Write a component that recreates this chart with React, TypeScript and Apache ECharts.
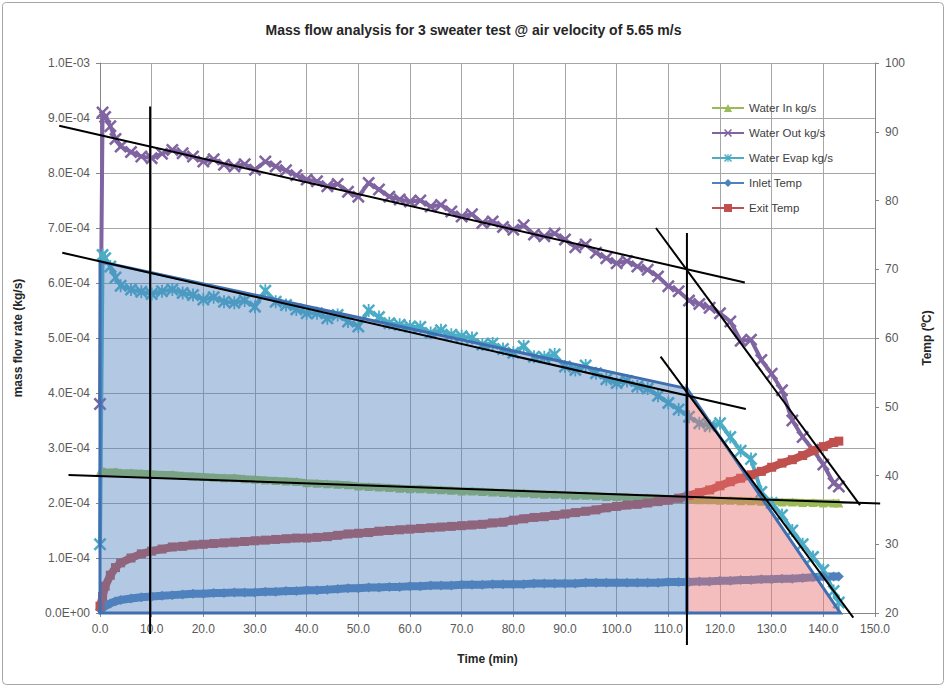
import React, { useEffect, useRef } from "react";
import * as echarts from "echarts";

// time (min)
const times = [0, 0.5, 1, 2, 3, 4, 6, 8, 10, 12, 14, 16, 18, 20, 22, 24, 26, 28, 30, 32, 34, 36, 38, 40, 42, 44, 46, 48, 50, 52, 54, 56, 58, 60, 62, 64, 66, 68, 70, 72, 74, 76, 78, 80, 82, 84, 86, 88, 90, 92, 94, 96, 98, 100, 102, 104, 106, 108, 110, 112, 114, 116, 118, 120, 122, 124, 126, 128, 130, 132, 134, 136, 138, 140, 142, 143];

// mass flow series, in units of 1e-4 kg/s
const waterInE4 = [2.57, 2.58, 2.57, 2.56, 2.57, 2.55, 2.55, 2.54, 2.53, 2.52, 2.52, 2.50, 2.49, 2.48, 2.47, 2.46, 2.46, 2.44, 2.43, 2.42, 2.41, 2.40, 2.39, 2.37, 2.36, 2.35, 2.34, 2.33, 2.31, 2.30, 2.29, 2.28, 2.27, 2.26, 2.26, 2.25, 2.24, 2.23, 2.22, 2.22, 2.21, 2.20, 2.19, 2.18, 2.18, 2.17, 2.16, 2.16, 2.15, 2.14, 2.14, 2.13, 2.12, 2.12, 2.11, 2.10, 2.10, 2.09, 2.08, 2.08, 2.07, 2.06, 2.06, 2.05, 2.05, 2.04, 2.04, 2.03, 2.03, 2.02, 2.02, 2.01, 2.01, 2.00, 2.00, 2.00];
const waterOutE4 = [3.80, 9.10, 9.02, 8.85, 8.62, 8.48, 8.38, 8.30, 8.27, 8.35, 8.42, 8.36, 8.30, 8.21, 8.25, 8.15, 8.12, 8.16, 8.06, 8.21, 8.12, 8.05, 7.96, 7.88, 7.85, 7.76, 7.80, 7.66, 7.57, 7.82, 7.70, 7.57, 7.52, 7.48, 7.50, 7.39, 7.42, 7.30, 7.21, 7.25, 7.09, 7.12, 7.02, 6.97, 7.05, 6.88, 6.85, 6.90, 6.79, 6.65, 6.70, 6.55, 6.45, 6.36, 6.40, 6.30, 6.24, 6.12, 5.94, 5.85, 5.68, 5.62, 5.55, 5.45, 5.30, 4.95, 4.97, 4.60, 4.35, 4.05, 3.50, 3.20, 2.97, 2.70, 2.36, 2.30];
const waterEvapE4 = [1.25, 6.51, 6.45, 6.30, 6.10, 5.95, 5.88, 5.84, 5.80, 5.85, 5.88, 5.82, 5.78, 5.70, 5.74, 5.66, 5.64, 5.68, 5.57, 5.86, 5.66, 5.60, 5.52, 5.45, 5.45, 5.36, 5.42, 5.30, 5.21, 5.50, 5.38, 5.27, 5.24, 5.21, 5.20, 5.09, 5.14, 5.06, 5.03, 5.00, 4.88, 4.90, 4.80, 4.73, 4.85, 4.66, 4.65, 4.70, 4.48, 4.42, 4.50, 4.36, 4.25, 4.18, 4.22, 4.12, 4.08, 3.95, 3.82, 3.70, 3.57, 3.45, 3.40, 3.45, 3.20, 2.95, 2.80, 2.20, 2.00, 1.78, 1.50, 1.25, 1.02, 0.78, 0.40, 0.19];

// temperatures (°C)
const inletTemp = [20.5, 20.7, 21.0, 21.4, 21.7, 21.9, 22.1, 22.3, 22.4, 22.5, 22.6, 22.7, 22.8, 22.8, 22.9, 22.9, 23.0, 23.0, 23.0, 23.1, 23.1, 23.2, 23.2, 23.3, 23.3, 23.4, 23.5, 23.6, 23.6, 23.7, 23.7, 23.8, 23.8, 23.9, 23.9, 24.0, 24.0, 24.0, 24.1, 24.1, 24.1, 24.2, 24.2, 24.2, 24.2, 24.3, 24.3, 24.3, 24.3, 24.3, 24.4, 24.4, 24.4, 24.4, 24.4, 24.4, 24.4, 24.4, 24.5, 24.5, 24.5, 24.6, 24.6, 24.7, 24.7, 24.8, 24.8, 24.9, 24.9, 25.0, 25.0, 25.1, 25.2, 25.3, 25.3, 25.3];
const exitTemp = [21.0, 22.4, 23.9, 25.5, 26.6, 27.3, 28.0, 28.6, 29.0, 29.3, 29.6, 29.7, 29.9, 30.0, 30.1, 30.2, 30.3, 30.4, 30.5, 30.6, 30.7, 30.8, 30.9, 30.9, 31.0, 31.1, 31.3, 31.5, 31.6, 31.7, 31.9, 32.0, 32.1, 32.2, 32.3, 32.4, 32.5, 32.6, 32.7, 32.8, 32.9, 33.1, 33.2, 33.5, 33.7, 33.9, 34.0, 34.2, 34.4, 34.6, 34.8, 35.0, 35.3, 35.5, 35.7, 35.8, 36.0, 36.2, 36.4, 36.7, 37.1, 37.5, 37.9, 38.5, 39.1, 39.6, 40.1, 40.6, 41.2, 41.8, 42.3, 42.9, 43.6, 44.2, 44.8, 45.0];

// hand-drawn annotations, [time, value in 1e-4 kg/s]
const blueRegion = [[0, 0], [0, 6.39], [113.6, 4.08], [113.6, 0]];
const pinkRegion = [[113.6, 4.08], [143.3, 0], [113.6, 0]];
const trendLines = [
  [[-7.9, 8.86], [124.8, 6.01]],
  [[107.6, 7.0], [147.1, 1.96]],
  [[-7.3, 6.55], [125.0, 3.71]],
  [[108.5, 4.66], [145.8, -0.085]],
  [[-6.1, 2.51], [151.0, 1.99]],
  [[9.7, 9.21], [9.7, -0.38]],
  [[113.6, 6.91], [113.6, -0.58]],
];

const seriesNames = ["Water In kg/s", "Water Out kg/s", "Water Evap kg/s", "Inlet Temp", "Exit Temp"];

const X_SYMBOL = "path://M0,1.4L1.4,0L5,3.6L8.6,0L10,1.4L6.4,5L10,8.6L8.6,10L5,6.4L1.4,10L0,8.6L3.6,5Z";
const STAR_SYMBOL = X_SYMBOL + "M4.3,0L5.7,0L5.7,10L4.3,10Z";

function fmtExp(v: number): string {
  if (Math.abs(v) < 1e-12) return "0.0E+00";
  const s = v.toExponential(1);
  const [m, e] = s.split("e");
  const n = parseInt(e, 10);
  return m + "E" + (n < 0 ? "-" : "+") + String(Math.abs(n)).padStart(2, "0");
}

const FONT = "'Liberation Sans', Arial, sans-serif";

export default function App() {
  const ref = useRef<HTMLDivElement>(null);
  useEffect(() => {
    document.body.style.margin = "0";
    const chart = echarts.init(ref.current!, undefined, { renderer: "svg" });
    const e4 = (arr: number[]) => times.map((t, i) => [t, arr[i] * 1e-4]);
    const raw = (arr: number[]) => times.map((t, i) => [t, arr[i]]);
    const axisLabel = { color: "#595959", fontSize: 12, fontFamily: FONT };
    const nameStyle = { color: "#262626", fontSize: 12, fontWeight: "bold", fontFamily: FONT };
    const option: any = {
      animation: false,
      backgroundColor: "#ffffff",
      title: {
        text: "Mass flow analysis for 3 sweater test @ air velocity of 5.65 m/s",
        left: "center",
        top: 18,
        textStyle: { color: "#262626", fontSize: 14, fontWeight: "bold", fontFamily: FONT },
      },
      legend: {
        orient: "vertical",
        left: 706,
        top: 97,
        itemWidth: 32,
        itemHeight: 10,
        itemGap: 13,
        data: seriesNames,
        textStyle: { color: "#404040", fontSize: 11.5, fontFamily: FONT },
      },
      grid: { left: 100, right: 72, top: 63, bottom: 75 },
      xAxis: {
        type: "value",
        min: 0,
        max: 150,
        interval: 10,
        name: "Time (min)",
        nameLocation: "middle",
        nameGap: 40,
        nameTextStyle: nameStyle,
        axisLabel: { ...axisLabel, formatter: (v: number) => v.toFixed(1), margin: 10 },
        axisLine: { lineStyle: { color: "#868686" } },
        axisTick: { show: true, length: 4, lineStyle: { color: "#868686" } },
        splitLine: { show: true, lineStyle: { color: "#a6a6a6" } },
      },
      yAxis: [
        {
          type: "value",
          min: 0,
          max: 0.001,
          interval: 0.0001,
          name: "mass flow rate (kg/s)",
          nameLocation: "middle",
          nameRotate: 90,
          nameGap: 76,
          nameTextStyle: nameStyle,
          axisLabel: { ...axisLabel, formatter: fmtExp, margin: 10 },
          axisLine: { show: true, lineStyle: { color: "#868686" } },
          axisTick: { show: true, length: 4, lineStyle: { color: "#868686" } },
          splitLine: { show: true, lineStyle: { color: "#a6a6a6" } },
        },
        {
          type: "value",
          position: "right",
          min: 20,
          max: 100,
          interval: 10,
          name: "Temp (ºC)",
          nameLocation: "middle",
          nameRotate: 90,
          nameGap: 46,
          nameTextStyle: nameStyle,
          axisLabel: { ...axisLabel, margin: 10 },
          axisLine: { show: true, lineStyle: { color: "#868686" } },
          axisTick: { show: true, length: 4, lineStyle: { color: "#868686" } },
          splitLine: { show: false },
        },
      ],
      series: [
        {
          name: seriesNames[0], type: "line", yAxisIndex: 0, data: e4(waterInE4),
          symbol: "triangle", symbolSize: 9,
          itemStyle: { color: "#9BBB59" }, lineStyle: { color: "#9BBB59", width: 7 },
        },
        {
          name: seriesNames[1], type: "line", yAxisIndex: 0, data: e4(waterOutE4),
          symbol: X_SYMBOL, symbolSize: 13,
          itemStyle: { color: "#8064A2" }, lineStyle: { color: "#8064A2", width: 4 },
        },
        {
          name: seriesNames[2], type: "line", yAxisIndex: 0, data: e4(waterEvapE4),
          symbol: STAR_SYMBOL, symbolSize: 13,
          itemStyle: { color: "#4BACC6" }, lineStyle: { color: "#4BACC6", width: 4 },
        },
        {
          name: seriesNames[3], type: "line", yAxisIndex: 1, data: raw(inletTemp),
          symbol: "diamond", symbolSize: 10,
          itemStyle: { color: "#4F81BD" }, lineStyle: { color: "#4F81BD", width: 8 },
        },
        {
          name: seriesNames[4], type: "line", yAxisIndex: 1, data: raw(exitTemp),
          symbol: "rect", symbolSize: 9,
          itemStyle: { color: "#C0504D" }, lineStyle: { color: "#C0504D", width: 8 },
        },
      ],
    };
    chart.setOption(option);

    const px = (p: number[]) =>
      chart.convertToPixel({ xAxisIndex: 0, yAxisIndex: 0 }, [p[0], p[1] * 1e-4]) as number[];
    const graphics: any[] = [
      {
        type: "rect",
        z: -10,
        shape: { x: 2.5, y: 2.5, width: 941, height: 682, r: 4 },
        style: { fill: "none", stroke: "#a6a6a6", lineWidth: 1 },
      },
      {
        type: "polygon",
        z: 100,
        shape: { points: blueRegion.map(px) },
        style: { fill: "rgba(79,129,189,0.43)", stroke: "#3f6fb0", lineWidth: 3 },
      },
      {
        type: "polygon",
        z: 100,
        shape: { points: pinkRegion.map(px) },
        style: { fill: "rgba(232,110,110,0.45)", stroke: "#3f6fb0", lineWidth: 3 },
      },
      ...trendLines.map((ln) => {
        const a = px(ln[0]);
        const b = px(ln[1]);
        return {
          type: "line",
          z: 101,
          shape: { x1: a[0], y1: a[1], x2: b[0], y2: b[1] },
          style: { stroke: "#000000", lineWidth: 2 },
        };
      }),
    ];
    chart.setOption({ graphic: graphics });
    return () => chart.dispose();
  }, []);
  return <div ref={ref} style={{ width: 947, height: 688 }} />;
}
